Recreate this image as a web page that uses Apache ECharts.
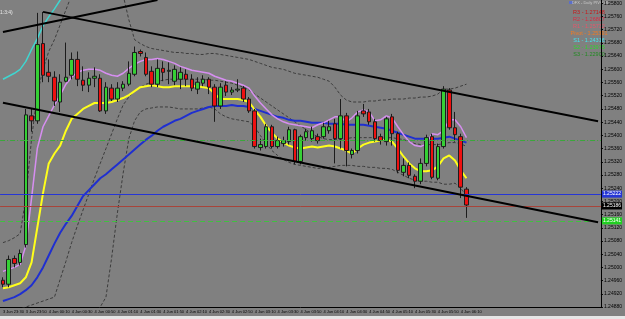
<!DOCTYPE html>
<html><head><meta charset="utf-8">
<script src="https://cdn.jsdelivr.net/npm/echarts@6/dist/echarts.min.js"></script>
<style>html,body{margin:0;padding:0;background:#808080}#c{width:625px;height:319px}</style>
</head><body><div id="c"></div>
<script>
const timeLabels = ['3 Jun 23:30','3 Jun 23:50','4 Jun 00:10','4 Jun 00:30','4 Jun 00:50','4 Jun 01:10','4 Jun 01:30','4 Jun 01:50','4 Jun 02:10','4 Jun 02:30','4 Jun 02:50','4 Jun 03:10','4 Jun 03:30','4 Jun 03:50','4 Jun 04:10','4 Jun 04:30','4 Jun 04:50','4 Jun 05:10','4 Jun 05:30','4 Jun 05:50','4 Jun 06:10'];
const opens = [1.24961,1.24949,1.25027,1.25015,1.25069,1.25459,1.25444,1.25678,1.25591,1.25576,
1.25501,1.25564,1.25582,1.25630,1.25567,1.25552,1.25573,1.25573,1.25474,1.25543,
1.25510,1.25543,1.25555,1.25585,1.25654,1.25636,1.25594,1.25555,1.25603,1.25594,
1.25564,1.25570,1.25585,1.25570,1.25540,1.25558,1.25570,1.25546,1.25489,1.25552,
1.25531,1.25537,1.25543,1.25510,1.25474,1.25363,1.25366,1.25426,1.25366,1.25375,
1.25381,1.25417,1.25321,1.25393,1.25390,1.25396,1.25396,1.25414,1.25435,1.25390,
1.25459,1.25342,1.25354,1.25474,1.25471,1.25441,1.25396,1.25381,1.25456,1.25405,
1.25288,1.25309,1.25276,1.25261,1.25315,1.25396,1.25270,1.25366,1.25537,1.25423,
1.25396,1.25237];
const closes = [1.24949,1.25024,1.25012,1.25042,1.25462,1.25444,1.25675,1.25582,1.25579,1.25504,
1.25561,1.25576,1.25630,1.25570,1.25552,1.25573,1.25579,1.25474,1.25546,1.25510,
1.25543,1.25555,1.25588,1.25651,1.25648,1.25585,1.25555,1.25603,1.25591,1.25597,
1.25600,1.25591,1.25570,1.25543,1.25561,1.25570,1.25546,1.25489,1.25546,1.25531,
1.25537,1.25540,1.25510,1.25474,1.25366,1.25372,1.25426,1.25366,1.25384,1.25384,
1.25417,1.25321,1.25396,1.25411,1.25414,1.25384,1.25426,1.25426,1.25390,1.25459,
1.25354,1.25354,1.25459,1.25465,1.25441,1.25390,1.25384,1.25450,1.25405,1.25294,
1.25309,1.25279,1.25261,1.25315,1.25393,1.25273,1.25366,1.25540,1.25423,1.25402,
1.25243,1.25189];
const lows = [1.24940,1.24940,1.25000,1.25006,1.25060,1.25411,1.25435,1.25561,1.25561,1.25489,
1.25471,1.25561,1.25570,1.25549,1.25534,1.25531,1.25546,1.25471,1.25465,1.25504,
1.25501,1.25534,1.25549,1.25579,1.25639,1.25579,1.25546,1.25546,1.25564,1.25555,
1.25552,1.25540,1.25549,1.25534,1.25525,1.25549,1.25525,1.25441,1.25480,1.25519,
1.25522,1.25531,1.25501,1.25468,1.25360,1.25354,1.25360,1.25360,1.25360,1.25366,
1.25372,1.25312,1.25312,1.25384,1.25381,1.25375,1.25390,1.25405,1.25315,1.25360,
1.25306,1.25330,1.25345,1.25456,1.25432,1.25381,1.25372,1.25369,1.25369,1.25285,
1.25276,1.25270,1.25240,1.25252,1.25306,1.25267,1.25264,1.25360,1.25417,1.25381,
1.25210,1.25150];
const highs = [1.24970,1.25036,1.25036,1.25054,1.25480,1.25480,1.25771,1.25774,1.25630,1.25594,
1.25585,1.25681,1.25651,1.25654,1.25609,1.25591,1.25606,1.25585,1.25561,1.25555,
1.25561,1.25564,1.25624,1.25669,1.25660,1.25651,1.25609,1.25630,1.25624,1.25621,
1.25612,1.25606,1.25600,1.25585,1.25576,1.25582,1.25576,1.25555,1.25558,1.25564,
1.25546,1.25570,1.25549,1.25516,1.25480,1.25390,1.25435,1.25432,1.25396,1.25396,
1.25426,1.25420,1.25402,1.25420,1.25426,1.25405,1.25438,1.25444,1.25450,1.25510,
1.25468,1.25360,1.25474,1.25495,1.25480,1.25450,1.25405,1.25456,1.25465,1.25411,
1.25330,1.25318,1.25282,1.25330,1.25402,1.25405,1.25375,1.25549,1.25543,1.25471,
1.25405,1.25243];
const maYellow = [1.24937,1.24940,1.24946,1.24952,1.24970,1.25015,1.25120,1.25225,1.25315,1.25345,
1.25369,1.25414,1.25450,1.25465,1.25480,1.25489,1.25498,1.25498,1.25498,1.25501,
1.25507,1.25513,1.25522,1.25534,1.25546,1.25549,1.25552,1.25549,1.25546,1.25546,
1.25549,1.25549,1.25549,1.25549,1.25549,1.25546,1.25543,1.25525,1.25510,1.25510,
1.25510,1.25510,1.25507,1.25501,1.25477,1.25456,1.25429,1.25408,1.25390,1.25378,
1.25369,1.25363,1.25360,1.25363,1.25366,1.25363,1.25366,1.25369,1.25366,1.25360,
1.25354,1.25345,1.25360,1.25372,1.25378,1.25381,1.25384,1.25387,1.25381,1.25360,
1.25336,1.25315,1.25300,1.25291,1.25291,1.25294,1.25306,1.25330,1.25339,1.25324,
1.25294,1.25270];
const maViolet = [1.24988,1.24994,1.25000,1.25009,1.25066,1.25210,1.25360,1.25426,1.25459,1.25492,
1.25522,1.25555,1.25576,1.25591,1.25597,1.25600,1.25600,1.25597,1.25588,1.25582,
1.25579,1.25588,1.25603,1.25615,1.25624,1.25630,1.25630,1.25633,1.25630,1.25624,
1.25618,1.25609,1.25603,1.25597,1.25594,1.25591,1.25588,1.25579,1.25573,1.25567,
1.25564,1.25558,1.25552,1.25543,1.25519,1.25498,1.25480,1.25462,1.25450,1.25441,
1.25435,1.25432,1.25429,1.25426,1.25423,1.25432,1.25438,1.25447,1.25456,1.25456,
1.25441,1.25453,1.25471,1.25477,1.25471,1.25444,1.25447,1.25459,1.25453,1.25426,
1.25402,1.25381,1.25369,1.25366,1.25375,1.25405,1.25402,1.25414,1.25447,1.25447,
1.25426,1.25393];
const maBlue = [1.24898,1.24904,1.24910,1.24919,1.24931,1.24946,1.24970,1.25000,1.25036,1.25072,
1.25105,1.25132,1.25156,1.25186,1.25216,1.25234,1.25252,1.25270,1.25282,1.25297,
1.25312,1.25327,1.25342,1.25357,1.25372,1.25387,1.25399,1.25414,1.25426,1.25435,
1.25444,1.25450,1.25459,1.25468,1.25474,1.25480,1.25486,1.25489,1.25489,1.25489,
1.25492,1.25489,1.25489,1.25486,1.25480,1.25474,1.25468,1.25462,1.25456,1.25453,
1.25447,1.25444,1.25444,1.25441,1.25438,1.25438,1.25438,1.25435,1.25435,1.25435,
1.25432,1.25432,1.25432,1.25432,1.25429,1.25426,1.25423,1.25420,1.25414,1.25408,
1.25402,1.25396,1.25390,1.25390,1.25390,1.25390,1.25390,1.25393,1.25396,1.25390,
1.25384,1.25378];
const maCyan = [1.25570,1.25579,1.25588,1.25600,1.25624,1.25660,1.25693,1.25732,1.25759,1.25783,1.25810,1.25837,1.25864];
const bandUpper = [1.25075,1.25081,1.25090,1.25102,1.25210,1.25390,1.25525,1.25600,1.25654,1.25690,
1.25735,1.25780,1.25825,1.25855,1.25870,1.25876,1.25876,1.25870,1.25864,1.25855,
1.25846,1.25825,1.25750,1.25690,1.25678,1.25669,1.25663,1.25660,1.25657,1.25654,
1.25651,1.25651,1.25648,1.25648,1.25645,1.25645,1.25648,1.25648,1.25645,1.25642,
1.25639,1.25636,1.25633,1.25630,1.25624,1.25618,1.25612,1.25606,1.25603,1.25600,
1.25594,1.25588,1.25585,1.25582,1.25579,1.25576,1.25570,1.25564,1.25546,1.25522,
1.25507,1.25501,1.25501,1.25501,1.25504,1.25504,1.25507,1.25507,1.25510,1.25510,
1.25510,1.25513,1.25513,1.25516,1.25516,1.25519,1.25525,1.25540,1.25540,1.25543,
1.25549,1.25555];
const bandMiddle = [1.24856,1.24862,1.24868,1.24874,1.24880,1.24886,1.24892,1.24898,1.24904,1.24910,
1.24964,1.25018,1.25075,1.25126,1.25174,1.25222,1.25270,1.25315,1.25360,1.25405,
1.25450,1.25492,1.25516,1.25534,1.25546,1.25555,1.25561,1.25564,1.25567,1.25570,
1.25570,1.25570,1.25570,1.25570,1.25570,1.25570,1.25567,1.25567,1.25564,1.25561,
1.25558,1.25552,1.25546,1.25537,1.25525,1.25513,1.25501,1.25489,1.25477,1.25465,
1.25453,1.25441,1.25429,1.25417,1.25405,1.25396,1.25390,1.25387,1.25387,1.25387,
1.25390,1.25393,1.25393,1.25393,1.25393,1.25393,1.25393,1.25393,1.25393,1.25390,
1.25387,1.25381,1.25375,1.25372,1.25372,1.25372,1.25372,1.25375,1.25378,1.25378,
1.25375,1.25366];
const bandLower = [1.24820,1.24805,1.24790,1.24775,1.24760,1.24760,1.24760,1.24775,1.24775,1.24790,
1.24790,1.24805,1.24820,1.24835,1.24850,1.24856,1.24865,1.24880,1.24910,1.25030,
1.25165,1.25285,1.25390,1.25444,1.25471,1.25480,1.25483,1.25486,1.25486,1.25486,
1.25483,1.25480,1.25480,1.25480,1.25480,1.25483,1.25486,1.25480,1.25465,1.25456,
1.25450,1.25447,1.25444,1.25441,1.25426,1.25399,1.25375,1.25354,1.25339,1.25327,
1.25318,1.25312,1.25309,1.25306,1.25303,1.25300,1.25300,1.25303,1.25306,1.25309,
1.25309,1.25309,1.25306,1.25306,1.25303,1.25303,1.25300,1.25300,1.25297,1.25288,
1.25279,1.25270,1.25264,1.25261,1.25261,1.25258,1.25258,1.25252,1.25252,1.25255,
1.25240,1.25216];
// channel lines: [startIndex, startPrice, endIndex, endPrice]
const channelUpper = [7, 1.25774, 104, 1.25443];
const channelLower = [0, 1.25499, 104, 1.25137];
const trendTop = [0, 1.25713, 27, 1.25810];
const levelBlue = 1.25222, levelRed = 1.25186, levelGreenLow = 1.25141, levelGreenHigh = 1.25386;
const pivotLegend = [['R3 - 1.27148','#c81818'],['R2 - 1.26807','#dc2a40'],['R1 - 1.25732','#e4566a'],['Pivot - 1.25391','#f07a22'],['S1 - 1.24316','#44e6f0'],['S2 - 1.23975','#2ed42e'],['S3 - 1.22900','#1f8a1f']];

const TOTAL = 105;
const cats = [];
for (let i = 0; i < TOTAL; i++) cats.push(i % 4 === 0 && timeLabels[i / 4] ? timeLabels[i / 4] : '');
const candles = opens.map((o, i) => [o, closes[i], lows[i], highs[i]]);
const FONT = 'Liberation Sans';

const chart = echarts.init(document.getElementById('c'), null, {renderer: 'canvas'});
const lineS = (name, data, color, width, type, extra) => Object.assign({
  name, type: 'line', data, symbol: 'none', silent: true, animation: false,
  lineStyle: {color, width, type: type || 'solid'}, z: 3
}, extra || {});
const boxLabel = (bg, fg) => ({show: true, position: 'end', distance: 1, formatter: p => Number(p.value).toFixed(5),
  backgroundColor: bg, color: fg, fontSize: 5, padding: [1, 1], fontFamily: FONT});
chart.setOption({
  backgroundColor: '#808080',
  animation: false,
  grid: {left: 0, right: 16, top: 0, bottom: 12},
  xAxis: {
    type: 'category', data: cats, boundaryGap: true,
    axisLine: {lineStyle: {color: '#000', width: 1}},
    axisTick: {interval: 3, length: 2, lineStyle: {color: '#000'}},
    axisLabel: {interval: 0, fontSize: 4, color: '#000', align: 'left', margin: 3, fontFamily: FONT},
    splitLine: {show: false}
  },
  yAxis: {
    type: 'value', position: 'right', min: 1.2488, max: 1.2581, interval: 0.0004,
    axisLine: {show: true, lineStyle: {color: '#000', width: 1}},
    axisTick: {show: true, length: 2, lineStyle: {color: '#000'}},
    axisLabel: {fontSize: 5, color: '#000', margin: 3, fontFamily: FONT, showMaxLabel: false,
      formatter: v => v.toFixed(5)},
    splitLine: {show: false}
  },
  series: [
    lineS('band upper', bandUpper, '#3c3c3c', 1, [3, 2], {
      markLine: {
        symbol: 'none', silent: true, animation: false, precision: 5,
        data: [
          {yAxis: levelGreenHigh, lineStyle: {color: '#3aa83a', width: 1, type: [5, 2, 1, 2]}, label: {show: false}},
          {yAxis: levelBlue, lineStyle: {color: '#2636d6', width: 1, type: 'solid'}, label: boxLabel('#2636d6', '#fff')},
          {yAxis: levelRed, lineStyle: {color: '#a8443a', width: 1, type: 'solid'}, label: boxLabel('#000', '#fff')},
          {yAxis: levelGreenLow, lineStyle: {color: '#40c040', width: 1, type: [5, 3]}, label: boxLabel('#22d022', '#fff')}
        ]
      }
    }),
    lineS('band middle', bandMiddle, '#3c3c3c', 1, [3, 2]),
    lineS('band lower', bandLower, '#3c3c3c', 1, [3, 2]),
    lineS('ma cyan', maCyan, '#3fd6d0', 1.5),
    lineS('ma blue', maBlue, '#1f2fd0', 2),
    lineS('ma violet', maViolet, '#d68ef0', 1.5),
    lineS('ma yellow', maYellow, '#ffff1a', 2),
    {
      type: 'candlestick', data: candles, barWidth: 4, z: 4, silent: true,
      itemStyle: {color: '#35d035', color0: '#ee1010', borderColor: '#1c1c1c', borderColor0: '#1c1c1c', borderWidth: 1},
      markLine: {
        symbol: 'none', silent: true, animation: false, precision: 5,
        label: {show: false},
        data: [
          [{coord: [channelUpper[0], channelUpper[1]]}, {coord: [channelUpper[2], channelUpper[3]]}],
          [{coord: [channelLower[0], channelLower[1]]}, {coord: [channelLower[2], channelLower[3]]}],
          [{coord: [trendTop[0], trendTop[1]]}, {coord: [trendTop[2], trendTop[3]]}],
        ],
        lineStyle: {color: '#000', width: 2, type: 'solid'}
      }
    }
  ],
  graphic: [
    {type: 'rect', left: 0, top: 316, shape: {width: 625, height: 3}, style: {fill: '#e6e6e6'}, silent: true},
    {type: 'text', left: 0, top: 10, style: {text: '1:3:4)', fill: '#e8e8e8', font: '5px ' + FONT}, silent: true},
    {type: 'rect', left: 569, top: 1, shape: {width: 4, height: 3}, style: {fill: '#5b6fc8'}, silent: true},
    {type: 'text', x: 590, y: 1, style: {text: 'DFX - Daily PIVOTS', fill: '#c8c8c8', font: '4px ' + FONT, textAlign: 'center'}, silent: true},
    ...pivotLegend.map((d, k) => ({type: 'text', x: 589, y: 9 + k * 7.1, silent: true,
      style: {text: d[0], fill: d[1], font: '5.5px ' + FONT, textAlign: 'center'}}))
  ]
});
</script></body></html>
